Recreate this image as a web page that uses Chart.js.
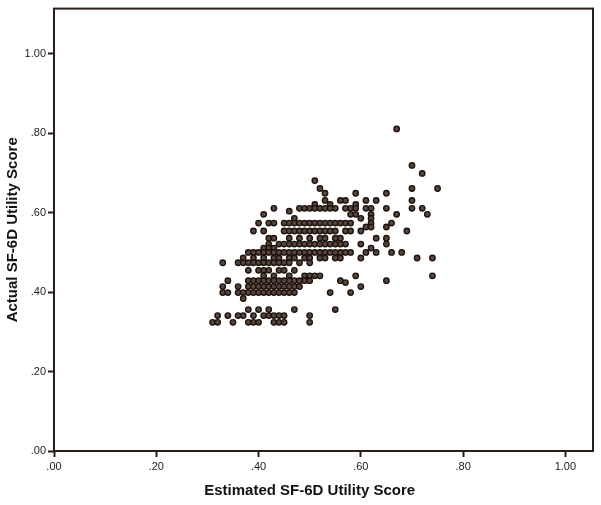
<!DOCTYPE html>
<html>
<head>
<meta charset="utf-8">
<script src="https://cdn.jsdelivr.net/npm/chart.js@4/dist/chart.umd.min.js"></script>
<style>
  html, body { margin: 0; padding: 0; background: #ffffff; }
  #wrap { width: 601px; height: 505px; position: relative; }
</style>
</head>
<body>
<div id="wrap"><canvas id="c" width="601" height="505"></canvas></div>
<script>
// Actual SF-6D levels (y) and the estimated scores (x) observed at each level
const actualLevels = [
  0.811, 0.719, 0.699, 0.681, 0.661, 0.649, 0.631, 0.621, 0.611, 0.604,
  0.596, 0.586, 0.574, 0.564, 0.554, 0.536, 0.521, 0.511, 0.500, 0.486,
  0.474, 0.455, 0.441, 0.429, 0.424, 0.414, 0.399, 0.384, 0.356, 0.341, 0.324
];
const estimatedByLevel = [
  [0.67],
  [0.70],
  [0.72],
  [0.51],
  [0.52, 0.70, 0.75],
  [0.53, 0.59, 0.65],
  [0.53, 0.56, 0.57, 0.61, 0.63, 0.70],
  [0.51, 0.54, 0.59],
  [0.43, 0.48, 0.49, 0.50, 0.51, 0.52, 0.53, 0.54, 0.55, 0.57, 0.58, 0.59, 0.61, 0.62, 0.65, 0.70, 0.72],
  [0.46],
  [0.41, 0.58, 0.59, 0.62, 0.67, 0.73],
  [0.47, 0.60, 0.62],
  [0.40, 0.42, 0.43, 0.45, 0.46, 0.47, 0.48, 0.49, 0.50, 0.51, 0.52, 0.53, 0.54, 0.55, 0.56, 0.57, 0.58, 0.62, 0.66],
  [0.61, 0.62, 0.65],
  [0.39, 0.41, 0.45, 0.46, 0.47, 0.48, 0.49, 0.50, 0.51, 0.52, 0.53, 0.54, 0.55, 0.57, 0.58, 0.60, 0.69],
  [0.42, 0.43, 0.46, 0.48, 0.50, 0.52, 0.53, 0.55, 0.56, 0.63, 0.65],
  [0.42, 0.44, 0.45, 0.46, 0.47, 0.48, 0.49, 0.50, 0.51, 0.52, 0.53, 0.54, 0.55, 0.56, 0.57, 0.60, 0.65],
  [0.41, 0.42, 0.43, 0.62],
  [0.38, 0.39, 0.40, 0.41, 0.42, 0.43, 0.44, 0.45, 0.46, 0.47, 0.48, 0.49, 0.50, 0.51, 0.52, 0.53, 0.54, 0.55, 0.56, 0.57, 0.58, 0.61, 0.63, 0.66, 0.68],
  [0.37, 0.39, 0.41, 0.43, 0.44, 0.46, 0.47, 0.49, 0.50, 0.52, 0.53, 0.55, 0.56, 0.60, 0.71, 0.74],
  [0.33, 0.36, 0.37, 0.38, 0.39, 0.40, 0.41, 0.42, 0.43, 0.44, 0.45, 0.46, 0.48, 0.50],
  [0.38, 0.40, 0.41, 0.42, 0.44, 0.45, 0.47],
  [0.41, 0.43, 0.46, 0.49, 0.50, 0.51, 0.52, 0.59, 0.74],
  [0.34, 0.38, 0.39, 0.40, 0.41, 0.42, 0.43, 0.44, 0.45, 0.46, 0.47, 0.48, 0.49, 0.50, 0.56, 0.65],
  [0.57],
  [0.33, 0.36, 0.38, 0.39, 0.40, 0.41, 0.42, 0.43, 0.44, 0.45, 0.46, 0.47, 0.48, 0.60],
  [0.33, 0.34, 0.36, 0.37, 0.38, 0.39, 0.40, 0.41, 0.42, 0.43, 0.44, 0.45, 0.46, 0.47, 0.54, 0.58],
  [0.37],
  [0.38, 0.40, 0.42, 0.47, 0.55],
  [0.32, 0.34, 0.36, 0.37, 0.39, 0.41, 0.42, 0.43, 0.44, 0.45, 0.50],
  [0.31, 0.32, 0.35, 0.38, 0.39, 0.40, 0.43, 0.44, 0.45, 0.50]
];
const xTickValues = [0, 0.2, 0.4, 0.6, 0.8, 1.0];
const yTickValues = [0, 0.2, 0.4, 0.6, 0.8, 1.0];
const xTitle = 'Estimated SF-6D Utility Score';
const yTitle = 'Actual SF-6D Utility Score';

const points = [];
actualLevels.forEach((y, i) => {
  estimatedByLevel[i].forEach(x => points.push({ x: x, y: y }));
});

const INK = '#2a1d17';
const fmt = v => {
  const s = Number(v).toFixed(2);
  return s.startsWith('0') ? s.slice(1) : s;
};

const framePlugin = {
  id: 'frame',
  afterDatasetsDraw(chart) {
    const { ctx, chartArea: a } = chart;
    ctx.save();
    ctx.strokeStyle = INK;
    ctx.lineWidth = 2;
    ctx.strokeRect(a.left, a.top, a.right - a.left, a.bottom - a.top);
    ctx.restore();
  },
  afterDraw(chart) {
    const { ctx } = chart;
    const xs = chart.scales.x;
    ctx.save();
    ctx.font = 'bold 15px "Liberation Sans", Arial, sans-serif';
    ctx.fillStyle = '#111111';
    ctx.textAlign = 'center';
    ctx.textBaseline = 'middle';
    ctx.fillText(xTitle, xs.getPixelForValue(0.5), 491);
    ctx.restore();
  }
};

new Chart(document.getElementById('c'), {
  type: 'scatter',
  data: {
    datasets: [{
      data: points,
      pointRadius: 2.7,
      pointHoverRadius: 2.7,
      pointBorderWidth: 1.4,
      pointBackgroundColor: '#56463e',
      pointBorderColor: '#1f130d'
    }]
  },
  options: {
    responsive: false,
    animation: false,
    events: [],
    layout: { padding: { top: 6, right: 8, left: 0, bottom: 0 } },
    plugins: { legend: { display: false }, tooltip: { enabled: false } },
    scales: {
      x: {
        type: 'linear',
        min: 0,
        max: 1.054,
        afterBuildTicks: s => { s.ticks = xTickValues.map(v => ({ value: v })); },
        afterFit: s => { s.height = 54; },
        border: { display: false },
        grid: { drawOnChartArea: false, drawTicks: true, tickLength: 6, tickColor: INK, tickWidth: 2 },
        ticks: {
          padding: 3,
          color: '#222222',
          font: { family: '"Liberation Sans", Arial, sans-serif', size: 11 },
          maxRotation: 0,
          callback: v => fmt(v)
        },
        title: { display: false, text: xTitle }
      },
      y: {
        type: 'linear',
        min: 0,
        max: 1.114,
        afterBuildTicks: s => { s.ticks = yTickValues.map(v => ({ value: v })); },
        afterFit: s => { s.width = 54; },
        border: { display: false },
        grid: { drawOnChartArea: false, drawTicks: true, tickLength: 6, tickColor: INK, tickWidth: 2 },
        ticks: {
          padding: 2,
          color: '#222222',
          font: { family: '"Liberation Sans", Arial, sans-serif', size: 11 },
          callback: v => fmt(v)
        },
        title: {
          display: true,
          text: yTitle,
          color: '#111111',
          font: { family: '"Liberation Sans", Arial, sans-serif', size: 15, weight: 'bold' },
          padding: { top: 4, bottom: 0 }
        }
      }
    }
  },
  plugins: [framePlugin]
});
</script>
</body>
</html>
